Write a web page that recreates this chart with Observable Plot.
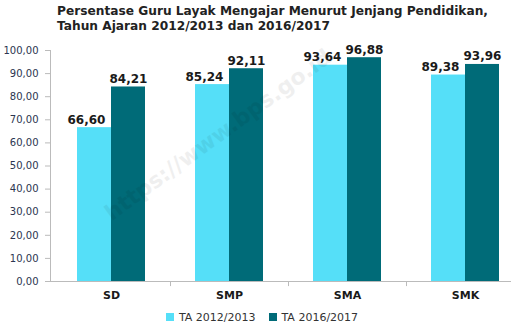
<!DOCTYPE html>
<html><head><meta charset="utf-8">
<script src="https://cdn.jsdelivr.net/npm/d3@7"></script>
<script src="https://cdn.jsdelivr.net/npm/@observablehq/plot@0.6"></script>
<style>
body{margin:0;background:#fff;width:514px;height:328px;overflow:hidden;position:relative;font-family:"DejaVu Sans",sans-serif}
#title{padding:4px 0 0 57px;height:34px;font-weight:bold;font-size:12.2px;line-height:15px;color:#222}
#legend{display:flex;justify-content:center;gap:13px;font-size:11px;color:#333;height:22px;align-items:center;padding-left:10px}
#legend span.sw{display:inline-block;width:8px;height:8px;margin-right:5px}
#wm{position:absolute;left:100px;top:205px;font-size:22px;color:#000;opacity:0.06;transform:rotate(-36deg);transform-origin:left top;white-space:nowrap;font-weight:bold}
</style></head>
<body>
<div id="title">Persentase Guru Layak Mengajar Menurut Jenjang Pendidikan,<br>Tahun Ajaran 2012/2013 dan 2016/2017</div>
<div id="chart"></div>
<div id="legend"></div>
<div id="wm">https://www.bps.go.id</div>
<script>
const categories = ["SD", "SMP", "SMA", "SMK"];
const series = ["TA 2012/2013", "TA 2016/2017"];
const values2012 = [66.60, 85.24, 93.64, 89.38];
const values2016 = [84.21, 92.11, 96.88, 93.96];
const yTicks = [0, 10, 20, 30, 40, 50, 60, 70, 80, 90, 100];
const colors = ["#55dff8", "#006b78"];

const d12 = categories.map((c, i) => ({cat: c, v: values2012[i]}));
const d16 = categories.map((c, i) => ({cat: c, v: values2016[i]}));
const fmt = v => v.toFixed(2).replace(".", ",");

const chart = Plot.plot({
  width: 514,
  height: 268,
  marginTop: 12,
  marginBottom: 25,
  marginLeft: 50,
  marginRight: 4,
  style: {fontFamily: "DejaVu Sans, sans-serif", background: "transparent", overflow: "visible"},
  x: {domain: categories, range: [50, 525], paddingInner: 0.425, paddingOuter: 0.22, label: null},
  y: {domain: [0, 100], label: null},
  marks: [
    Plot.barY(d12, {x: "cat", y: "v", fill: colors[0], insetRight: 34}),
    Plot.barY(d16, {x: "cat", y: "v", fill: colors[1], insetLeft: 34}),
    Plot.frame({anchor: "bottom", stroke: "#bbb"}),
    Plot.frame({anchor: "left", stroke: "#bbb"}),
    Plot.text(d12, {x: "cat", y: "v", text: d => fmt(d.v), dx: -25, dy: -4, lineAnchor: "bottom", fontWeight: "bold", fontSize: 12, fill: "#1a1a1a"}),
    Plot.text(d16, {x: "cat", y: "v", text: d => fmt(d.v), dx: 17, dy: -4, lineAnchor: "bottom", fontWeight: "bold", fontSize: 12, fill: "#1a1a1a"}),
    Plot.ruleX(categories.slice(0, 3), {x: d => d, dx: 59, y1: 0, y2: -2.2, stroke: "#bbb"}),
    Plot.axisY({ticks: yTicks, tickFormat: fmt, tickSize: 5, tickPadding: 7, fontSize: 10, stroke: "#bbb", color: "#2b3550", label: null}),
    Plot.axisX({tickSize: 0, tickPadding: 10, fontSize: 11, fontWeight: "bold", color: "#1a1a1a", label: null})
  ]
});
document.getElementById("chart").appendChild(chart);
const legend = document.getElementById("legend");
series.forEach((s, i) => {
  const el = document.createElement("span");
  el.innerHTML = `<span class="sw" style="background:${colors[i]}"></span>${s}`;
  legend.appendChild(el);
});
</script>
</body></html>
